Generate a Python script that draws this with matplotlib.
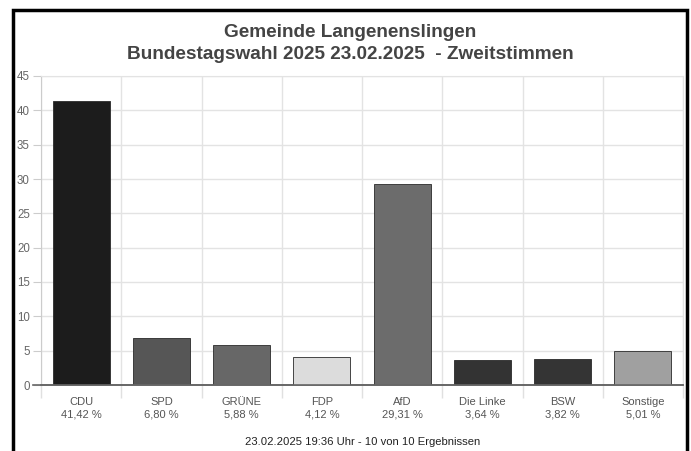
import matplotlib
matplotlib.use("Agg")
import matplotlib.pyplot as plt
from matplotlib.patches import Rectangle

# data
parties = ["CDU", "SPD", "GRÜNE", "FDP", "AfD", "Die Linke", "BSW", "Sonstige"]
shares = [41.42, 6.80, 5.88, 4.12, 29.31, 3.64, 3.82, 5.01]
bar_colors = ["#1c1c1c", "#565656", "#676767", "#dcdcdc", "#6c6c6c", "#333333", "#343434", "#a0a0a0"]
y_ticks = [0, 5, 10, 15, 20, 25, 30, 35, 40, 45]

title = "Gemeinde Langenenslingen\nBundestagswahl 2025 23.02.2025  - Zweitstimmen"
footer = "23.02.2025 19:36 Uhr - 10 von 10 Ergebnissen"

plt.rcParams['font.family'] = ['Liberation Sans', 'DejaVu Sans']

W, H = 691, 451
fig = plt.figure(figsize=(W / 100, H / 100), dpi=100)

# axes placed in pixel terms
left, right, top, bottom = 41, 683, 76, 385
ax = fig.add_axes([left / W, 1 - bottom / H, (right - left) / W, (bottom - top) / H])

x = list(range(len(parties)))
ax.bar(x, shares, width=0.71, color=bar_colors, edgecolor="#2a2a2a", linewidth=0.6, zorder=3)

ax.set_xlim(-0.5, len(parties) - 0.5)
ax.set_ylim(0, 45)
ax.set_yticks(y_ticks)
ax.set_yticklabels([str(v) for v in y_ticks], color="#666666", fontsize=8.3)
ax.tick_params(axis="y", length=6, color="#cccccc", pad=2)

# category labels with percentages
ax.set_xticks([i - 0.5 for i in range(len(parties) + 1)])
ax.set_xticklabels([])
ax.tick_params(axis="x", length=9, color="#e0e0e0", width=1)
for i, (p, s) in enumerate(zip(parties, shares)):
    lab = p + "\n" + f"{s:.2f}".replace(".", ",") + " %"
    ax.text(i, -1.8, lab, ha="center", va="top", fontsize=8, color="#555555",
            linespacing=1.3, transform=ax.transData)

ax.grid(True, color="#e3e3e3", linewidth=1, zorder=0)
for side in ["top", "right"]:
    ax.spines[side].set_color("#e3e3e3")
ax.spines["left"].set_color("#cccccc")
ax.spines["bottom"].set_color("#666666")
ax.spines["bottom"].set_linewidth(1.2)
ax.axhline(0, xmin=-0.012, xmax=1, color="#666666", linewidth=1.2, clip_on=False, zorder=4)

fig.text(0.507, 1 - 43.5 / H, title, ha="center", va="center", fontsize=13.7, fontweight="bold",
         color="#444444", linespacing=1.32)
fig.text(0.525, 1 - 442 / H, footer, ha="center", va="center", fontsize=8.1, color="#222222")

# outer black frame
fig.patches.append(Rectangle((12.5 / W, -0.05), (686.5 - 12.5) / W, 1.05 - 10.5 / H,
                             transform=fig.transFigure, fill=False, edgecolor="black", linewidth=2.5))

fig.savefig("out.png", dpi=100)
